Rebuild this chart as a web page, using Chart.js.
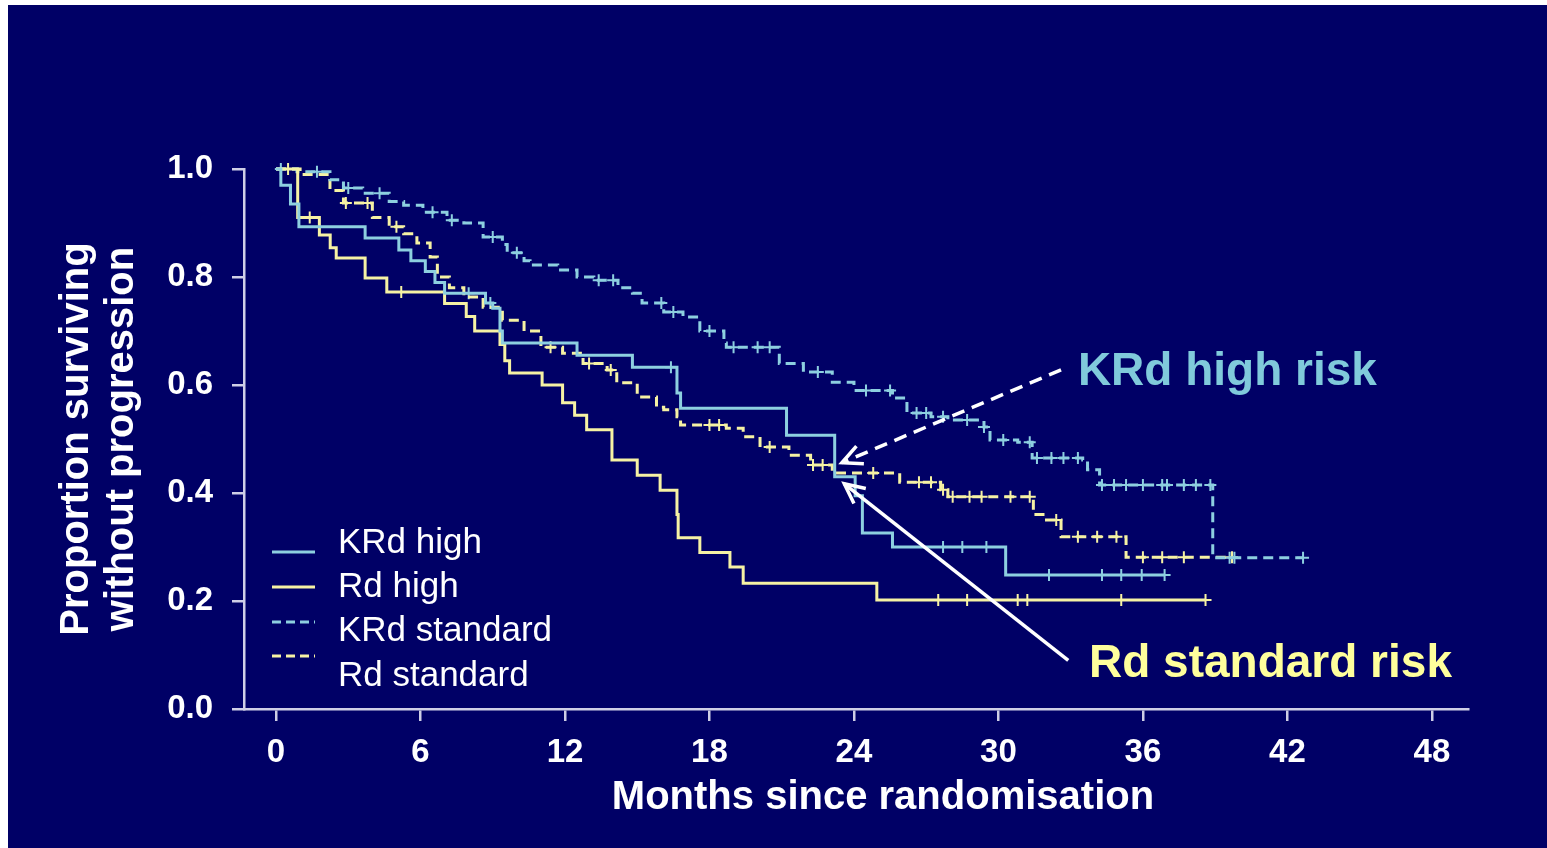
<!DOCTYPE html>
<html>
<head>
<meta charset="utf-8">
<title>PFS by risk group</title>
<script src="https://cdn.jsdelivr.net/npm/chart.js@4.4.1/dist/chart.umd.min.js"></script>
<style>
  html, body { margin: 0; padding: 0; background: #000066; overflow: hidden; }
  canvas { display: block; }
</style>
</head>
<body>
<canvas id="pfsChart" width="1547" height="848"></canvas>
<script>
// Kaplan-Meier steps: survival holds from each month until the next one
var krdHighMonths = [0, 0.2, 0.6, 0.95, 3.7, 5.1, 5.6, 6.2, 6.6, 7.0, 8.7, 9.0, 9.3, 9.4, 12.5, 14.8, 16.65, 16.8, 21.2, 23.2, 24.05, 24.35, 25.6, 30.3, 36.9];
var krdHighSurv   = [1.0, 0.97, 0.935, 0.893, 0.872, 0.85, 0.83, 0.81, 0.79, 0.77, 0.752, 0.742, 0.70, 0.678, 0.655, 0.633, 0.585, 0.557, 0.507, 0.43, 0.395, 0.326, 0.30, 0.248, 0.248];
var krdHighCensor = [8.0, 8.9, 16.4, 27.7, 28.5, 29.5, 32.1, 34.3, 35.1, 35.95, 36.9];

var rdHighMonths = [0, 0.9, 1.8, 2.25, 2.5, 3.7, 4.6, 7.0, 7.9, 8.25, 9.3, 9.5, 9.7, 11.05, 11.9, 12.4, 12.9, 13.95, 15.0, 15.95, 16.65, 16.7, 17.6, 18.85, 19.4, 24.95, 38.6];
var rdHighSurv   = [1.0, 0.91, 0.878, 0.854, 0.835, 0.798, 0.772, 0.751, 0.727, 0.70, 0.675, 0.645, 0.622, 0.60, 0.567, 0.544, 0.517, 0.461, 0.433, 0.405, 0.36, 0.317, 0.29, 0.263, 0.233, 0.202, 0.202];
var rdHighCensor = [1.4, 5.2, 27.5, 28.7, 30.8, 31.2, 35.1, 38.6];

var krdStdMonths = [0, 0.87, 2.24, 2.8, 3.6, 4.7, 5.3, 6.1, 7.1, 7.8, 8.6, 9.4, 9.6, 10.3, 10.55, 11.7, 12.5, 13.2, 14.2, 14.8, 15.2, 16.1, 16.9, 17.6, 18.6, 18.7, 20.9, 21.9, 23.1, 24.0, 25.6, 26.2, 27.2, 27.9, 29.4, 29.65, 30.8, 31.4, 33.5, 33.7, 34.2, 38.9, 42.65];
var krdStdSurv   = [1.0, 0.995, 0.98, 0.965, 0.955, 0.94, 0.933, 0.92, 0.905, 0.90, 0.874, 0.86, 0.845, 0.83, 0.822, 0.813, 0.80, 0.794, 0.78, 0.77, 0.752, 0.735, 0.726, 0.70, 0.678, 0.67, 0.64, 0.624, 0.605, 0.59, 0.576, 0.548, 0.541, 0.535, 0.522, 0.498, 0.494, 0.465, 0.461, 0.443, 0.415, 0.28, 0.28];
var krdStdCensor = [0.2, 1.7, 3.0, 4.3, 6.5, 7.3, 9.0, 10.0, 13.4, 14.0, 16.0, 16.5, 18.0, 19.0, 20.0, 20.5, 22.5, 24.5, 25.5, 26.6, 27.0, 27.7, 28.7, 29.4, 30.2, 31.3, 31.6, 32.2, 32.7, 33.3, 34.3, 34.8, 35.3, 36.0, 36.8, 37.0, 37.7, 38.2, 38.8, 39.6, 39.8, 42.65];

var rdStdMonths = [0, 1.0, 2.24, 2.8, 4.0, 4.7, 5.3, 5.85, 6.4, 6.7, 7.2, 7.8, 8.6, 9.4, 10.3, 11.0, 11.9, 12.75, 13.75, 14.15, 15.0, 15.8, 16.1, 16.65, 16.8, 18.7, 19.4, 20.1, 21.3, 22.2, 23.1, 25.9, 27.6, 27.9, 31.45, 31.85, 32.6, 35.3, 39.7];
var rdStdSurv   = [1.0, 0.99, 0.96, 0.937, 0.91, 0.893, 0.88, 0.863, 0.837, 0.80, 0.78, 0.763, 0.744, 0.72, 0.70, 0.67, 0.659, 0.64, 0.628, 0.604, 0.578, 0.559, 0.554, 0.541, 0.526, 0.52, 0.504, 0.485, 0.47, 0.452, 0.437, 0.42, 0.406, 0.393, 0.36, 0.35, 0.319, 0.281, 0.281];
var rdStdCensor = [0.5, 2.9, 3.8, 5.0, 11.4, 13.0, 13.9, 18.0, 18.4, 20.5, 22.3, 22.7, 24.8, 26.7, 27.2, 27.7, 28.1, 28.8, 29.3, 30.5, 31.3, 32.4, 33.3, 34.1, 34.9, 36.0, 36.8, 37.7, 39.7];

var xTicks = [0, 6, 12, 18, 24, 30, 36, 42, 48];
var yTicks = [0, 0.2, 0.4, 0.6, 0.8, 1.0];
var seriesNames = ['KRd high', 'Rd high', 'KRd standard', 'Rd standard'];

var navy = '#000066';
var krdColor = '#8dcfe0';
var rdColor = '#f6f2a4';
var axisColor = '#cfcfe6';
var fontFamily = '"Liberation Sans", Arial, Helvetica, sans-serif';

function stepPoints(months, surv) {
  return months.map(function(m, i) { return { x: m, y: surv[i] }; });
}

// survival at time t
function survAt(months, surv, t) {
  var s = surv[0];
  for (var i = 0; i < months.length; i++) {
    if (months[i] <= t) s = surv[i];
  }
  return s;
}

function censorPoints(months, surv, censor) {
  return censor.map(function(t) { return { x: t, y: survAt(months, surv, t) }; });
}

function curve(label, months, surv, color, dashed) {
  return {
    label: label,
    data: stepPoints(months, surv),
    borderColor: color,
    borderWidth: 3,
    borderDash: dashed ? [10, 6] : [],
    stepped: 'before',
    pointRadius: 0,
    fill: false,
    clip: false
  };
}

function ticks(label, months, surv, censor, color) {
  return {
    label: label + ' censored',
    data: censorPoints(months, surv, censor),
    showLine: false,
    pointStyle: 'cross',
    pointRadius: 6,
    pointBorderWidth: 2,
    pointBorderColor: color,
    pointBackgroundColor: color,
    clip: false
  };
}

var ctx = document.getElementById('pfsChart');

new Chart(ctx, {
  type: 'line',
  data: {
    datasets: [
      curve(seriesNames[0], krdHighMonths, krdHighSurv, krdColor, false),
      curve(seriesNames[1], rdHighMonths, rdHighSurv, rdColor, false),
      curve(seriesNames[2], krdStdMonths, krdStdSurv, krdColor, true),
      curve(seriesNames[3], rdStdMonths, rdStdSurv, rdColor, true),
      ticks(seriesNames[0], krdHighMonths, krdHighSurv, krdHighCensor, krdColor),
      ticks(seriesNames[1], rdHighMonths, rdHighSurv, rdHighCensor, rdColor),
      ticks(seriesNames[2], krdStdMonths, krdStdSurv, krdStdCensor, krdColor),
      ticks(seriesNames[3], rdStdMonths, rdStdSurv, rdStdCensor, rdColor)
    ]
  },
  options: {
    responsive: false,
    animation: false,
    layout: { padding: { top: 169, right: 79, bottom: 0, left: 0 } },
    plugins: {
      legend: { display: false },
      tooltip: { enabled: false }
    },
    scales: {
      x: {
        type: 'linear',
        min: -1.33,
        max: 49.5,
        afterBuildTicks: function(axis) {
          axis.ticks = xTicks.map(function(v) { return { value: v }; });
        },
        afterFit: function(scale) { scale.height = 139; },
        border: { display: true, color: axisColor, width: 2.5 },
        grid: { drawOnChartArea: false, drawTicks: true, tickLength: 12, color: axisColor, lineWidth: 2.5 },
        ticks: {
          color: '#ffffff',
          font: { size: 33, weight: 'bold', family: fontFamily },
          padding: 12,
          maxRotation: 0,
          autoSkip: false
        },
        title: { display: false }
      },
      y: {
        type: 'linear',
        min: 0,
        max: 1,
        afterBuildTicks: function(axis) {
          axis.ticks = yTicks.map(function(v) { return { value: v }; });
        },
        afterFit: function(scale) { scale.width = 244; },
        border: { display: true, color: axisColor, width: 2.5 },
        grid: { drawOnChartArea: false, drawTicks: true, tickLength: 12, color: axisColor, lineWidth: 2.5 },
        ticks: {
          color: '#ffffff',
          font: { size: 33, weight: 'bold', family: fontFamily },
          padding: 19,
          callback: function(v) { return v.toFixed(1); }
        },
        title: {
          display: true,
          text: ['Proportion surviving', 'without progression'],
          color: '#ffffff',
          font: { size: 40, weight: 'bold', family: fontFamily, lineHeight: 1.12 },
          padding: { top: 55, bottom: 0 }
        }
      }
    }
  },
  plugins: [{
    id: 'slideBackground',
    beforeDraw: function(chart) {
      var c = chart.ctx;
      c.save();
      c.fillStyle = '#ffffff';
      c.fillRect(0, 0, chart.width, chart.height);
      c.fillStyle = navy;
      c.fillRect(8, 5, chart.width - 8, chart.height - 5);
      c.restore();
    }
  }, {
    id: 'pfsExtras',
    afterDraw: function(chart) {
      var c = chart.ctx;
      var xs = chart.scales.x;
      var ys = chart.scales.y;
      var area = chart.chartArea;

      // x axis title
      c.save();
      c.fillStyle = '#ffffff';
      c.font = 'bold 40px ' + fontFamily;
      c.textAlign = 'center';
      c.textBaseline = 'middle';
      c.fillText('Months since randomisation', (area.left + area.right) / 2 + 27, xs.top + 89);
      c.restore();

      // legend block
      var rows = [
        { text: seriesNames[0], color: krdColor, dash: [], lineY: 552, textY: 543 },
        { text: seriesNames[1], color: rdColor, dash: [], lineY: 587, textY: 587 },
        { text: seriesNames[2], color: krdColor, dash: [9, 5], lineY: 622, textY: 631 },
        { text: seriesNames[3], color: rdColor, dash: [9, 5], lineY: 656, textY: 676 }
      ];
      c.save();
      rows.forEach(function(r) {
        c.beginPath();
        c.setLineDash(r.dash);
        c.strokeStyle = r.color;
        c.lineWidth = 3;
        c.moveTo(272, r.lineY);
        c.lineTo(315, r.lineY);
        c.stroke();
        c.setLineDash([]);
        c.fillStyle = '#ffffff';
        c.font = '35px ' + fontFamily;
        c.textAlign = 'left';
        c.textBaseline = 'middle';
        c.fillText(r.text, 338, r.textY);
      });
      c.restore();

      // callout arrows pointing at the crossing near 24 months
      function arrow(fromM, fromS, toM, toS, dash) {
        var x0 = xs.getPixelForValue(fromM), y0 = ys.getPixelForValue(fromS);
        var x1 = xs.getPixelForValue(toM), y1 = ys.getPixelForValue(toS);
        var ang = Math.atan2(y1 - y0, x1 - x0);
        c.save();
        c.strokeStyle = '#ffffff';
        c.lineWidth = 3.5;
        c.setLineDash(dash);
        c.beginPath();
        c.moveTo(x0, y0);
        c.lineTo(x1, y1);
        c.stroke();
        c.setLineDash([]);
        c.beginPath();
        c.moveTo(x1 - 22 * Math.cos(ang - 0.45), y1 - 22 * Math.sin(ang - 0.45));
        c.lineTo(x1, y1);
        c.lineTo(x1 - 22 * Math.cos(ang + 0.45), y1 - 22 * Math.sin(ang + 0.45));
        c.stroke();
        c.restore();
      }
      arrow(32.6, 0.628, 23.5, 0.456, [13, 8]);
      arrow(32.9, 0.09, 23.6, 0.417, []);

      c.save();
      c.font = 'bold 46px ' + fontFamily;
      c.textAlign = 'left';
      c.textBaseline = 'middle';
      c.fillStyle = '#80cadb';
      c.fillText('KRd high risk', xs.getPixelForValue(33.3), ys.getPixelForValue(0.624));
      c.fillStyle = '#ffff9c';
      c.fillText('Rd standard risk', xs.getPixelForValue(33.76), ys.getPixelForValue(0.083));
      c.restore();
    }
  }]
});
</script>
</body>
</html>
